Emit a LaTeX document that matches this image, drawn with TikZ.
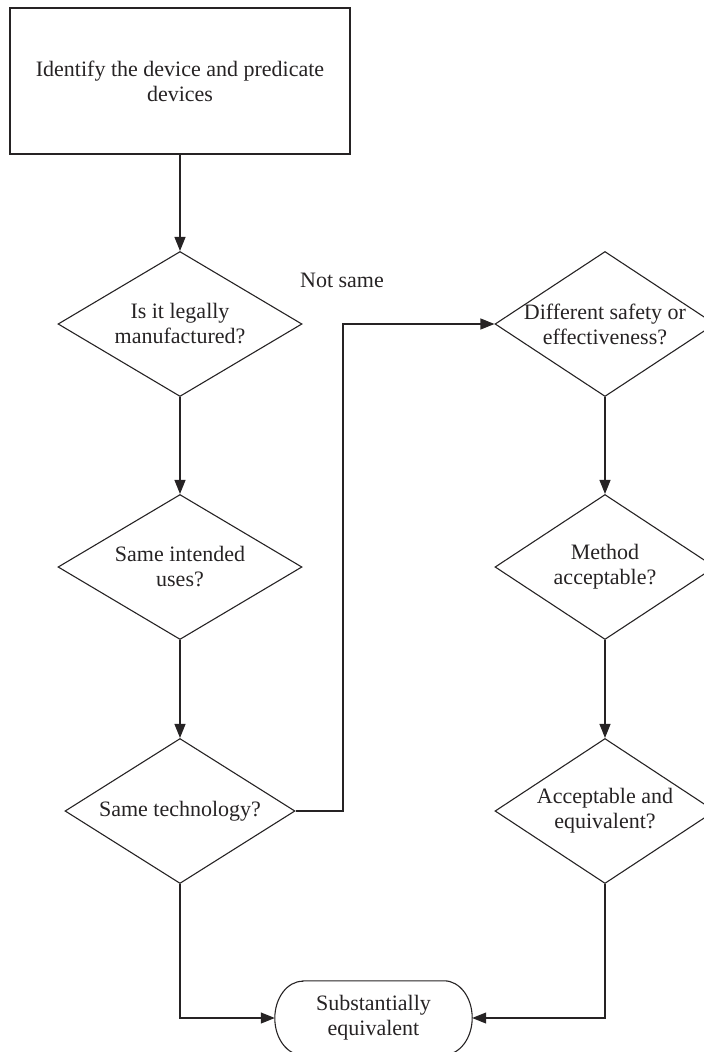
\documentclass[tikz,border=0pt]{standalone}
\usepackage{fontspec}
\setmainfont{Liberation Serif}
\usetikzlibrary{shapes.geometric,arrows.meta}
\definecolor{ink}{HTML}{262324}
\begin{document}
\begin{tikzpicture}[x=1pt,y=-1pt,
  line/.style={draw=ink, line width=1.1pt},
  arr/.style={line, -{Triangle[length=14pt,width=11pt]}},
  txt/.style={align=center, font=\fontsize{22}{25}\selectfont, text=ink, inner sep=0pt},
  stepbox/.style={rectangle, line, txt, minimum width=340pt, minimum height=146pt},
  dec/.style={diamond, line, inner sep=0pt, minimum height=145pt},
  term/.style={rectangle, txt, minimum width=197pt, minimum height=74pt}]
\useasboundingbox (0,0) rectangle (704,1052);

% process box
\node[stepbox] (start) at (180,81) {Identify the device and predicate\\devices};

% left column of decisions
\node[dec, minimum width=244pt] (d1) at (180,324) {};
\node[txt] (t1) at (d1) {Is it legally\\manufactured?};
\node[dec, minimum width=244pt] (d2) at (180,567) {};
\node[txt] (t2) at (d2) {Same intended\\uses?};
\node[dec, minimum width=230pt] (d3) at (180,811) {};
\node[txt] (t3) at (d3) {Same technology?};

% right column of decisions
\node[dec, minimum width=220pt] (d4) at (605,324) {};
\node[txt] (t4) at (d4) {Different safety or\\effectiveness?};
\node[dec, minimum width=220pt] (d5) at (605,567) {};
\node[txt] (t5) at (d5) {Method\\acceptable?};
\node[dec, minimum width=220pt] (d6) at (605,811) {};
\node[txt] (t6) at (d6) {Acceptable and\\equivalent?};

% terminal: straight top and bottom with elliptical ends
\node[term] (end) at (373.5,1018) {Substantially\\equivalent};
\draw[line] ([xshift=28pt]end.north west) -- ([xshift=-28pt]end.north east)
  arc[start angle=90, end angle=-90, x radius=28pt, y radius=37pt]
  -- ([xshift=28pt]end.south west)
  arc[start angle=270, end angle=90, x radius=28pt, y radius=37pt] -- cycle;

\node[txt] (notsame) at (342,280) {Not same};

% connectors
\coordinate (jog) at (343,324);
\draw[arr] (start) -- (d1);
\draw[arr] (d1) -- (d2);
\draw[arr] (d2) -- (d3);
\draw[arr] (d3.east) -| (jog) -- (d4.west);
\draw[arr] (d4) -- (d5);
\draw[arr] (d5) -- (d6);
\draw[arr] (d3.south) |- (end.west);
\draw[arr] (d6.south) |- (end.east);
\end{tikzpicture}
\end{document}
